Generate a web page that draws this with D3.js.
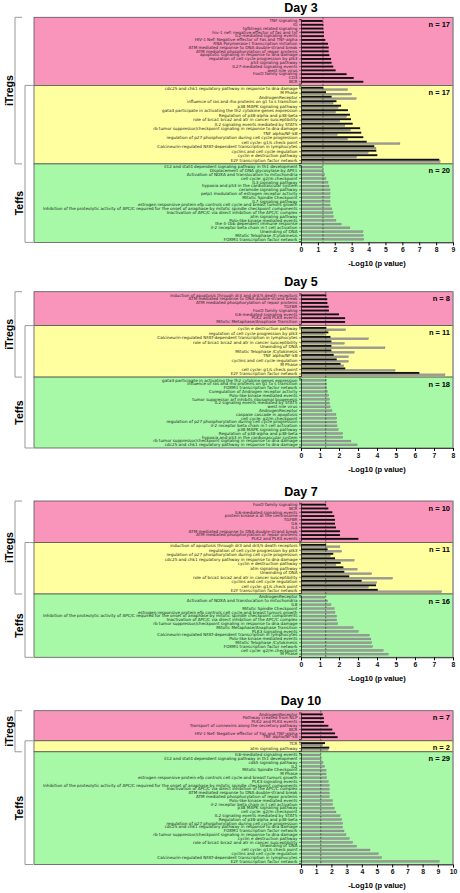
<!DOCTYPE html>
<html><head><meta charset="utf-8">
<script src="https://cdn.jsdelivr.net/npm/d3@7"></script>
<style>body{margin:0;background:#fff}svg{display:block}</style>
</head><body>
<script>
// ---------------- DATA ----------------
const day3PinkLabels = ["TNF signaling","IG","tgfbtregs related signaling","hiv-1 nef: negative effector of fas and tnf","IL2-mediated signaling events","HIV-1 Nef: Negative effector of Fas and TNF-alpha","RNA Polymerase I Transcription Initiation","ATM mediated response to DNA double-strand break","ATM mediated phosphorylation of repair proteins","apoptotic signaling in response to dna damage","regulation of cell cycle progression by plk3","p53 signaling pathway","IL27-mediated signaling events","west nile virus","FoxO family signaling","CD3","BCR"];
const day3PinkBlack = [1.28,1.32,1.32,1.36,1.36,1.44,1.6,1.64,1.64,1.68,1.78,1.81,1.91,2.05,2.7,3.12,3.69];
const day3YellowLabels = ["cdc25 and chk1 regulatory pathway in response to dna damage","M Phase","AndrogenReceptor","influence of ras and rho proteins on g1 to s transition","p38 MAPK signaling pathway","gata3 participate in activating the th2 cytokine genes expression","Regulation of p38-alpha and p38-beta","role of brca1 brca2 and atr in cancer susceptibility","IL2 signaling events mediated by STAT5","rb tumor suppressor/checkpoint signaling in response to dna damage","TNF alpha/NF-kB","regulation of p27 phosphorylation during cell cycle progression","cell cycle: g1/s check point","Calcineurin-regulated NFAT-dependent transcription in lymphocytes","cyclins and cell cycle regulation","cyclin e destruction pathway","E2F transcription factor network"];
const day3YellowBlack = [1.32,1.48,1.81,2.1,2.37,2.78,2.9,2.96,3.06,3.5,3.57,3.69,3.89,4.34,4.46,4.52,8.19];
const day3YellowGray  = [2.76,3.0,3.27,1.9,2.2,2.05,2.7,2.3,2.6,2.93,2.15,2.76,5.86,4.44,3.98,3.29,8.24];
const day3GreenLabels = ["il12 and stat4 dependent signaling pathway in th1 development","Displacement of DNA glycosylase by APE1","Activation of NOXA and translocation to mitochondria","cell cycle: g2/m checkpoint","IL3 signaling pathway","hypoxia and p53 in the cardiovascular system","ceramide signaling pathway","pelp1 modulation of estrogen receptor activity","Mitotic Spindle Checkpoint","IL7 signaling pathway","estrogen responsive protein efp controls cell cycle and breast tumors growth","Inhibition of the proteolytic activity of APC/C required for the onset of anaphase by mitotic spindle checkpoint components","Inactivation of APC/C via direct inhibition of the APC/C complex","atm signaling pathway","Polo-like kinase mediated events","the 4-1bb dependent immune response","il-2 receptor beta chain in t cell activation","Unwinding of DNA","Mitotic Telophase /Cytokinesis","FOXM1 transcription factor network"];
const day3GreenGray = [1.28,1.32,1.4,1.48,1.6,1.66,1.72,1.72,1.72,1.72,1.72,1.83,1.89,1.91,2.07,2.38,2.9,3.67,3.69,3.72];

const day5PinkLabels = ["induction of apoptosis through dr3 and dr4/5 death receptors","ATM mediated response to DNA double-strand break","ATM mediated phosphorylation of repair proteins","TGFBR","FoxO family signaling","IL6-mediated signaling events","PLK2 and PLK4 events","Mitotic Metaphase/Anaphase Transition"];
const day5PinkBlack = [1.33,1.38,1.39,1.46,1.47,2.0,2.32,2.32];
const day5YellowLabels = ["cyclin e destruction pathway","regulation of cell cycle progression by plk3","Calcineurin-regulated NFAT-dependent transcription in lymphocytes","role of brca1 brca2 and atr in cancer susceptibility","Unwinding of DNA","Mitotic Telophase /Cytokinesis","TNF alpha/NF-kB","cyclins and cell cycle regulation","M Phase","cell cycle: g1/s check point","E2F transcription factor network"];
const day5YellowBlack = [1.33,1.44,1.55,1.6,1.6,1.6,1.72,1.88,2.08,2.33,6.23];
const day5YellowGray  = [2.35,1.25,3.55,2.28,4.42,2.8,2.5,2.5,2.25,4.95,7.58];
const day5GreenLabels = ["gata3 participate in activating the th2 cytokine genes expression","influence of ras and rho proteins on g1 to s transition","FOXM1 transcription factor network","Coregulation of Androgen receptor activity","Polo-like kinase mediated events","tumor suppressor arf inhibits ribosomal biogenesis","IL2 signaling events mediated by STAT5","west nile virus","AndrogenReceptor","caspase cascade in apoptosis","cell cycle: g2/m checkpoint","regulation of p27 phosphorylation during cell cycle progression","il-2 receptor beta chain in t cell activation","p38 MAPK signaling pathway","Regulation of p38-alpha and p38-beta","hypoxia and p53 in the cardiovascular system","rb tumor suppressor/checkpoint signaling in response to dna damage","cdc25 and chk1 regulatory pathway in response to dna damage"];
const day5GreenGray = [1.32,1.35,1.36,1.4,1.46,1.5,1.5,1.54,1.63,1.84,1.88,1.88,1.9,1.96,2.2,2.2,2.63,2.96];

const day7PinkLabels = ["FoxO family signaling","BCR","IL6-mediated signaling events","protein kinase a at the centrosome","TGFBR","IL6","IL4","ATM mediated response to DNA double-strand break","ATM mediated phosphorylation of repair proteins","PLK2 and PLK4 events"];
const day7PinkBlack = [1.32,1.44,1.65,1.75,1.79,1.79,1.84,2.05,2.05,3.02];
const day7YellowLabels = ["induction of apoptosis through dr3 and dr4/5 death receptors","regulation of cell cycle progression by plk3","regulation of p27 phosphorylation during cell cycle progression","cdc25 and chk1 regulatory pathway in response to dna damage","cyclin e destruction pathway","atm signaling pathway","Unwinding of DNA","role of brca1 brca2 and atr in cancer susceptibility","cyclins and cell cycle regulation","cell cycle: g1/s check point","E2F transcription factor network"];
const day7YellowBlack = [1.32,1.4,1.7,1.79,2.09,2.23,2.28,2.54,3.19,3.95,4.04];
const day7YellowGray  = [2.05,2.14,1.55,2.8,1.84,2.96,3.72,4.82,3.98,3.55,7.4];
const day7GreenLabels = ["AndrogenReceptor","Activation of NOXA and translocation to mitochondria","IL8","Mitotic Spindle Checkpoint","estrogen responsive protein efp controls cell cycle and breast tumors growth","Inhibition of the proteolytic activity of APC/C required for the onset of anaphase by mitotic spindle checkpoint components","Inactivation of APC/C via direct inhibition of the APC/C complex","rb tumor suppressor/checkpoint signaling in response to dna damage","Mitotic Metaphase/Anaphase Transition","PLK3 signaling events","Calcineurin-regulated NFAT-dependent transcription in lymphocytes","Polo-like kinase mediated events","Mitotic Telophase /Cytokinesis","FOXM1 transcription factor network","cell cycle: g2/m checkpoint","M Phase"];
const day7GreenGray = [1.26,1.4,1.58,1.75,1.79,1.88,1.88,1.93,2.75,3.02,3.6,3.68,3.72,3.77,4.33,4.6];

const day10PinkLabels = ["AndrogenReceptor","Pathway created from NLP","PLK2 and PLK4 events","Transport of connexins along the secretory pathway","BCR","HIV-1 Nef: Negative effector of Fas and TNF-alpha","TNF alpha/NF-kB"];
const day10PinkBlack = [1.43,1.51,1.51,1.8,2.06,2.24,2.41];
const day10YellowLabels = ["TCR","atm signaling pathway"];
const day10YellowBlack = [1.58,1.86];
const day10YellowGray  = [1.43,1.8];
const day10GreenLabels = ["IL6-mediated signaling events","il12 and stat4 dependent signaling pathway in th1 development","cdk5 signaling pathway","IL2","Mitotic Spindle Checkpoint","M Phase","estrogen responsive protein efp controls cell cycle and breast tumors growth","PLK3 signaling events","Inhibition of the proteolytic activity of APC/C required for the onset of anaphase by mitotic spindle checkpoint components","Inactivation of APC/C via direct inhibition of the APC/C complex","ATM mediated response to DNA double-strand break","ATM mediated phosphorylation of repair proteins","Polo-like kinase mediated events","il-2 receptor beta chain in t cell activation","p38 MAPK signaling pathway","cell cycle: g2/m checkpoint","IL2 signaling events mediated by STAT5","Regulation of p38-alpha and p38-beta","regulation of p27 phosphorylation during cell cycle progression","cdc25 and chk1 regulatory pathway in response to dna damage","FOXM1 transcription factor network","rb tumor suppressor/checkpoint signaling in response to dna damage","cyclin e destruction pathway","role of brca1 brca2 and atr in cancer susceptibility","Unwinding of DNA","cell cycle: g1/s check point","cyclins and cell cycle regulation","Calcineurin-regulated NFAT-dependent transcription in lymphocytes","E2F transcription factor network"];
const day10GreenGray = [1.3,1.32,1.45,1.55,1.65,1.65,1.68,1.8,1.86,1.86,1.86,1.86,2.08,2.08,2.19,2.3,2.57,2.68,2.74,2.74,2.83,2.96,3.18,3.4,3.66,4.54,5.09,5.31,9.1];

const dayTitles = ["Day 3","Day 5","Day 7","Day 10"];
const axisMax = [9,8,8,10];
const sigThreshold = -Math.log10(0.05);

const panels = [
  {pink:[day3PinkLabels,day3PinkBlack], yellow:[day3YellowLabels,day3YellowBlack,day3YellowGray], green:[day3GreenLabels,day3GreenGray]},
  {pink:[day5PinkLabels,day5PinkBlack], yellow:[day5YellowLabels,day5YellowBlack,day5YellowGray], green:[day5GreenLabels,day5GreenGray]},
  {pink:[day7PinkLabels,day7PinkBlack], yellow:[day7YellowLabels,day7YellowBlack,day7YellowGray], green:[day7GreenLabels,day7GreenGray]},
  {pink:[day10PinkLabels,day10PinkBlack], yellow:[day10YellowLabels,day10YellowBlack,day10YellowGray], green:[day10GreenLabels,day10GreenGray]}
];

// ---------------- LAYOUT ----------------
const W = 460, H = 893;
const BOX_L = 34, X0 = 301, X1 = 453;
const panelTops = [17.3, 291.7, 501, 710.7];
const ROWH = {pink:3.8, yellow:4.5, green:3.8};
const PADH = {pink:3.5, yellow:2, green:2.5};
const FILL = {pink:"#F995BA", yellow:"#FFFFA0", green:"#A7F8A7"};
const FONT = "'Liberation Sans', Arial, sans-serif";
const LABEL_FONT = "'DejaVu Sans', Verdana, sans-serif";

const svg = d3.select("body").append("svg").attr("width",W).attr("height",H)
  .style("font-family",FONT);

panels.forEach((p,pi)=>{
  const top = panelTops[pi];
  const x = d3.scaleLinear().domain([0,axisMax[pi]]).range([X0,X1]);
  const g = svg.append("g");
  let yCur = top;
  const secs = {};
  ["pink","yellow","green"].forEach(key=>{
    const labels = p[key][0];
    const n = labels.length;
    const h = n*ROWH[key] + PADH[key];
    const y = d3.scaleBand().domain(d3.range(n)).range([yCur+PADH[key]/2, yCur+h-PADH[key]/2]);
    secs[key] = {y0:yCur, y1:yCur+h, y, labels, black:key!=="green"?p[key][1]:null, gray:key==="yellow"?p[key][2]:(key==="green"?p[key][1]:null)};
    yCur += h;
  });
  const bottom = yCur;

  ["pink","yellow","green"].forEach(key=>{
    const s = secs[key];
    g.append("rect").attr("x",BOX_L).attr("y",s.y0).attr("width",X1-BOX_L).attr("height",s.y1-s.y0)
      .attr("fill",FILL[key]).attr("stroke","#555").attr("stroke-width",0.8);
  });
  g.append("line").attr("x1",X1).attr("x2",X1).attr("y1",top).attr("y2",bottom).attr("stroke","#999").attr("stroke-width",1);

  ["pink","yellow","green"].forEach(key=>{
    const s = secs[key];
    const bw = s.y.bandwidth();
    const idx = d3.range(s.labels.length);
    if(key==="yellow"){
      g.selectAll(null).data(idx).join("rect")
        .attr("x",X0).attr("y",i=>s.y(i)+bw*0.5).attr("height",bw*0.42)
        .attr("width",i=>x(s.gray[i])-X0).attr("fill","#9a9a9a").attr("stroke","#6a6a6a").attr("stroke-width",0.25);
      g.selectAll(null).data(idx).join("rect")
        .attr("x",X0).attr("y",i=>s.y(i)+bw*0.08).attr("height",bw*0.42)
        .attr("width",i=>x(s.black[i])-X0).attr("fill","#111");
    } else if(key==="pink"){
      g.selectAll(null).data(idx).join("rect")
        .attr("x",X0).attr("y",i=>s.y(i)+bw*0.25).attr("height",bw*0.5)
        .attr("width",i=>x(s.black[i])-X0).attr("fill","#111");
    } else {
      g.selectAll(null).data(idx).join("rect")
        .attr("x",X0).attr("y",i=>s.y(i)+bw*0.25).attr("height",bw*0.5)
        .attr("width",i=>x(s.gray[i])-X0).attr("fill","#9a9a9a").attr("stroke","#666").attr("stroke-width",0.25);
    }
    const yAx = d3.axisLeft(s.y).tickSize(2).tickFormat(i=>s.labels[i]);
    const ag = g.append("g").attr("transform",`translate(${X0},0)`).call(yAx);
    ag.select(".domain").attr("stroke","#222").attr("stroke-width",0.8);
    ag.selectAll(".tick line").attr("stroke","#222").attr("stroke-width",0.5);
    ag.selectAll(".tick text").attr("x",-3.5).attr("font-size",4.15).attr("fill","#222").attr("font-family",LABEL_FONT);
    g.append("text").attr("x",450).attr("y",s.y0+7).attr("text-anchor","end").attr("dominant-baseline","central")
      .attr("font-size",7.5).attr("font-weight","bold").text(`n = ${s.labels.length}`);
  });

  g.append("line").attr("x1",x(sigThreshold)).attr("x2",x(sigThreshold)).attr("y1",top).attr("y2",bottom)
    .attr("stroke","#222").attr("stroke-width",0.6).attr("stroke-dasharray","2,1.5");

  const xa = g.append("g").attr("transform",`translate(0,${bottom})`)
    .call(d3.axisBottom(x).ticks(axisMax[pi]).tickSize(3).tickPadding(2));
  xa.select(".domain").attr("stroke","#222").attr("stroke-width",0.8);
  xa.selectAll(".tick text").attr("font-size",6.8).attr("font-weight","bold").attr("font-family",FONT).attr("fill","#111");
  g.append("text").attr("x",(X0+X1)/2).attr("y",bottom+21).attr("text-anchor","middle").attr("dominant-baseline","central")
    .attr("font-size",7.5).attr("font-weight","bold").text("-Log10 (p value)");

  g.append("text").attr("x",X0).attr("y",top-9.5).attr("text-anchor","middle").attr("dominant-baseline","central")
    .attr("font-size",12.5).attr("font-weight","bold").text(dayTitles[pi]);

  const br = (xv,y0,y1,len)=>g.append("path").attr("d",`M${xv+len},${y0}H${xv}V${y1}H${xv+len}`)
    .attr("fill","none").attr("stroke","#999").attr("stroke-width",1);
  br(15, top, secs.yellow.y1, 7);
  br(25, secs.yellow.y0, bottom, 8);
  g.append("text").attr("transform",`translate(8.5,${(top+secs.yellow.y1)/2}) rotate(-90)`)
    .attr("text-anchor","middle").attr("dominant-baseline","central")
    .attr("font-size",10.5).attr("font-weight","bold").text("iTregs");
  g.append("text").attr("transform",`translate(19,${(secs.green.y0+bottom)/2}) rotate(-90)`)
    .attr("text-anchor","middle").attr("dominant-baseline","central")
    .attr("font-size",10.5).attr("font-weight","bold").text("Teffs");
});
</script>
</body></html>
